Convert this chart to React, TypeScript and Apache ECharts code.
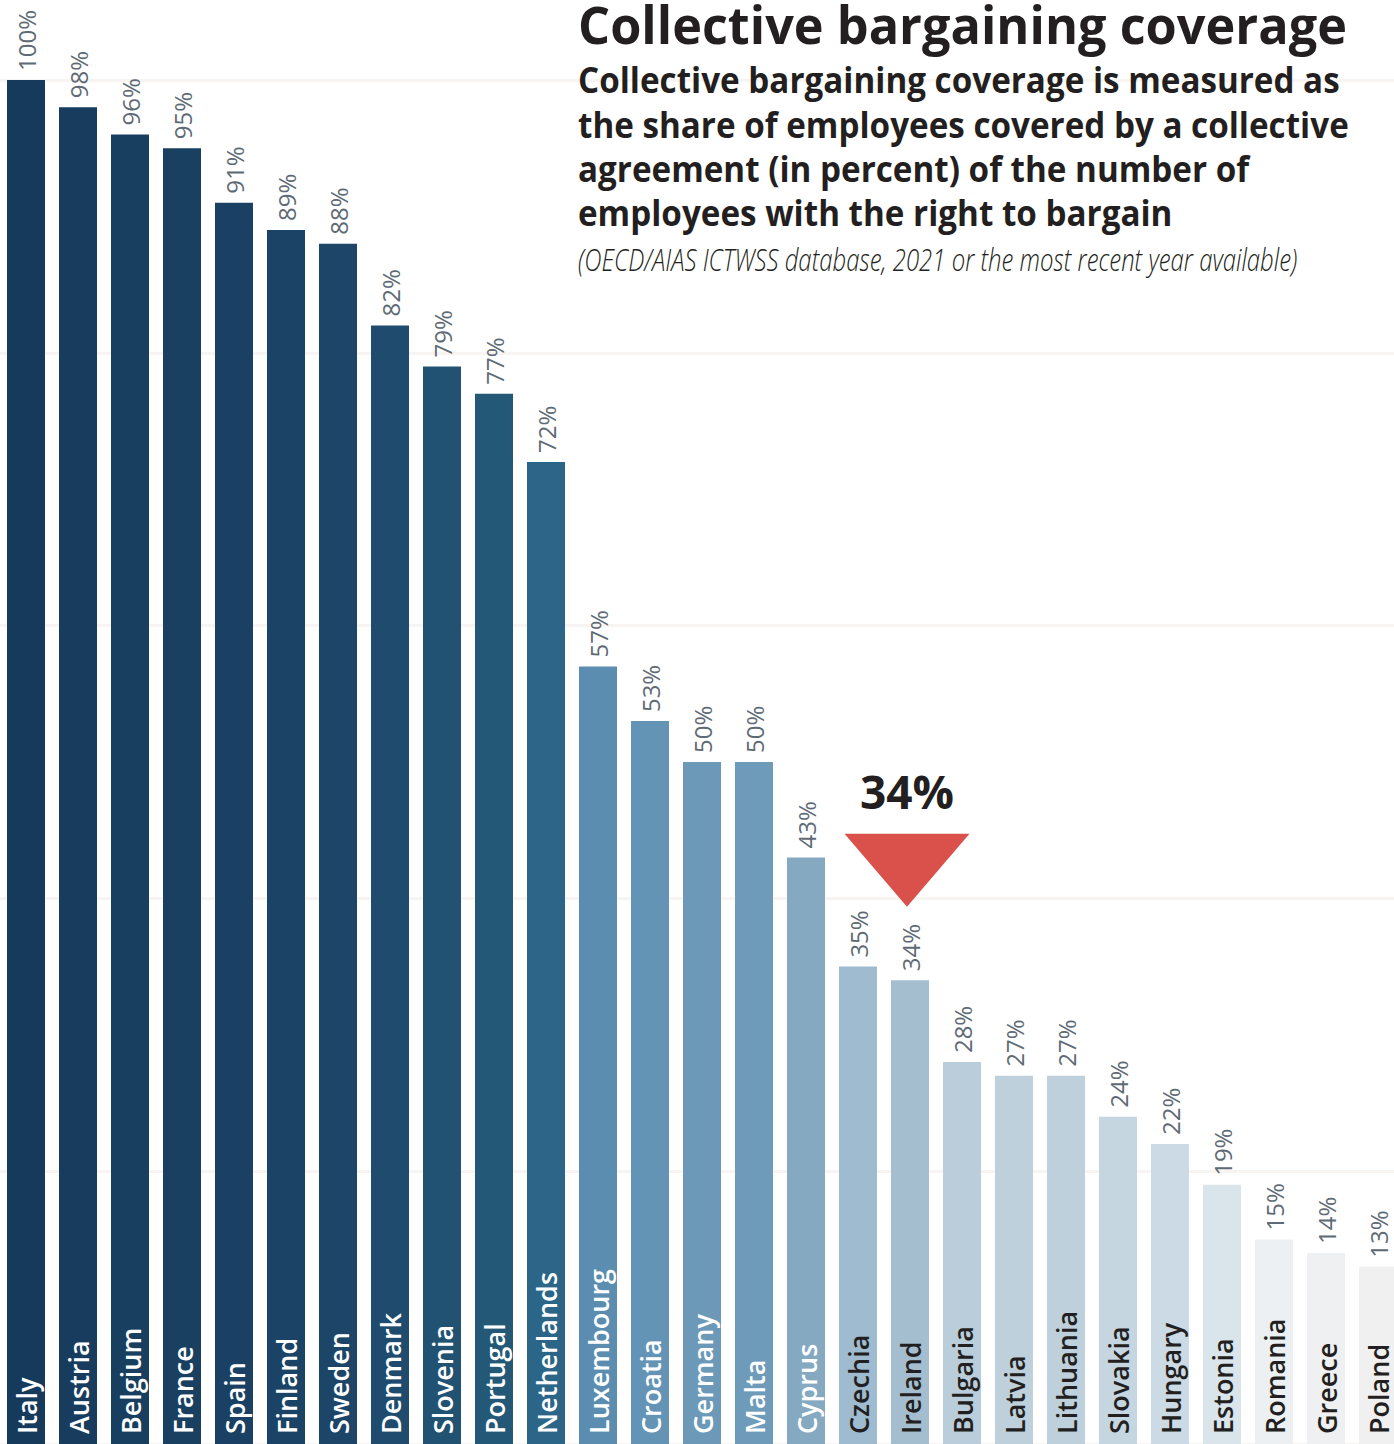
import React, { useEffect, useRef } from "react";
import * as echarts from "echarts";

const countries = [
  "Italy", "Austria", "Belgium", "France", "Spain", "Finland", "Sweden", "Denmark",
  "Slovenia", "Portugal", "Netherlands", "Luxembourg", "Croatia", "Germany", "Malta",
  "Cyprus", "Czechia", "Ireland", "Bulgaria", "Latvia", "Lithuania", "Slovakia",
  "Hungary", "Estonia", "Romania", "Greece", "Poland",
];

const coverage = [
  100, 98, 96, 95, 91, 89, 88, 82, 79, 77, 72, 57, 53, 50, 50, 43, 35, 34, 28, 27, 27,
  24, 22, 19, 15, 14, 13,
];

const barColors = [
  "#163a5c", "#173c5e", "#183e60", "#193f61", "#1a4163", "#1b4365", "#1c4567",
  "#1f4c6e", "#215272", "#245877", "#2b6587", "#5a8db0", "#6494b5", "#6c99b8",
  "#6e9bb9", "#86a9c2", "#9fbbcf", "#a4bed0", "#b9cdda", "#bed0dc", "#bdd0dc",
  "#c6d6e1", "#cbdae4", "#d9e4eb", "#ecf0f2", "#eef0f1", "#f0f0f0",
];

const yTicks = [0, 20, 40, 60, 80, 100];

const highlightCountry = "Ireland";
const highlightLabel = "34%";

const titleText = "Collective bargaining coverage";
const subtitleLines = [
  "Collective bargaining coverage is measured as",
  "the share of employees covered by a collective",
  "agreement (in percent) of the number of",
  "employees with the right to bargain",
];
const sourceText = "(OECD/AIAS ICTWSS database, 2021 or the most recent year available)";

function fitScale(text: string, font: string, target: number) {
  const ctx = document.createElement("canvas").getContext("2d");
  if (!ctx) return 1;
  ctx.font = font;
  const w = ctx.measureText(text).width;
  return w > 0 ? target / w : 1;
}

export default function App() {
  const ref = useRef<HTMLDivElement>(null);

  useEffect(() => {
    document.body.style.margin = "0";
    document.body.style.overflow = "hidden";
    if (!ref.current) return;
    const chart = echarts.init(ref.current, undefined, { renderer: "svg" });

    const FF = "'Open Sans'";
    const titleSize = 52;
    const subSize = 35;
    const srcSize = 32;
    const titleScale = fitScale(titleText, `700 ${titleSize}px ${FF}`, 769);
    const subScale = fitScale(subtitleLines[0], `700 ${subSize}px ${FF}`, 762);
    const srcScale = fitScale(sourceText, `italic 300 ${srcSize}px ${FF}`, 719);

    const left = 578;
    const subBaselines = [90, 135, 179, 223];

    const graphics: any[] = [
      {
        type: "text",
        x: left,
        y: 39 - 0.29 * titleSize,
        scaleX: titleScale,
        z: 10,
        style: {
          text: titleText,
          fontFamily: FF,
          fontWeight: 700,
          fontSize: titleSize,
          lineHeight: 44,
          fill: "#231f20",
          verticalAlign: "middle",
        },
      },
      ...subtitleLines.map((t, i) => ({
        type: "text",
        x: left,
        y: subBaselines[i] - 0.29 * subSize,
        scaleX: subScale,
        z: 10,
        style: {
          text: t,
          fontFamily: FF,
          fontWeight: 700,
          fontSize: subSize,
          fill: "#231f20",
          verticalAlign: "middle",
        },
      })),
      {
        type: "text",
        x: left,
        y: 268 - 0.29 * srcSize,
        scaleX: srcScale,
        z: 10,
        style: {
          text: sourceText,
          fontFamily: FF,
          fontWeight: 300,
          fontStyle: "italic",
          fontSize: srcSize,
          fill: "#231f20",
          verticalAlign: "middle",
        },
      },
    ];

    const hiIndex = countries.indexOf(highlightCountry);

    chart.setOption({
      animation: false,
      backgroundColor: "#ffffff",
      grid: { left: 0, right: 0, top: 80, bottom: -2 },
      xAxis: {
        type: "category",
        data: countries,
        axisLine: { show: false },
        axisTick: { show: false },
        axisLabel: { show: false },
      },
      yAxis: {
        type: "value",
        min: yTicks[0],
        max: yTicks[yTicks.length - 1],
        interval: yTicks[1] - yTicks[0],
        axisLine: { show: false },
        axisTick: { show: false },
        axisLabel: { show: false },
        splitLine: { show: true, lineStyle: { color: "#f7f4f1", width: 3 } },
      },
      graphic: graphics,
      series: [
        {
          type: "bar",
          barWidth: 38,
          data: coverage.map((v, i) => ({
            value: v,
            itemStyle: { color: barColors[i] },
          })),
          label: {
            show: true,
            position: "top",
            rotate: 90,
            align: "left",
            verticalAlign: "middle",
            distance: 9,
            formatter: "{c}%",
            fontFamily: FF,
            fontSize: 24,
            fontWeight: 400,
            color: "#5e6a75",
          },
          markPoint: {
            silent: true,
            data: [
              {
                coord: [hiIndex, coverage[hiIndex]],
                symbol: "path://M0,0 L125,0 L62.5,73 Z",
                symbolSize: [125, 73],
                symbolOffset: [-3, -110],
                itemStyle: { color: "#d9514a" },
                label: { show: false },
              },
              {
                coord: [hiIndex, coverage[hiIndex]],
                symbol: "circle",
                symbolSize: 1,
                symbolOffset: [-3, -189],
                itemStyle: { color: "rgba(0,0,0,0)" },
                label: {
                  show: true,
                  position: "inside",
                  formatter: highlightLabel,
                  fontFamily: FF,
                  fontWeight: 700,
                  fontSize: 46,
                  color: "#231f20",
                },
              },
            ],
          },
        },
        {
          type: "bar",
          barWidth: 38,
          barGap: "-100%",
          silent: true,
          data: coverage.map((v, i) => ({
            value: v,
            label: { color: i <= 15 ? "#ffffff" : "#231f20" },
          })),
          itemStyle: { color: "rgba(0,0,0,0)" },
          label: {
            show: true,
            position: "insideBottom",
            rotate: 90,
            align: "left",
            verticalAlign: "middle",
            distance: 10,
            formatter: (p: any) => countries[p.dataIndex],
            fontFamily: FF,
            fontSize: 27,
            lineHeight: 22,
            fontWeight: 600,
          },
        },
      ],
    });

    return () => chart.dispose();
  }, []);

  return (
    <div style={{ position: "absolute", left: 0, top: 0, width: 1394, height: 1444, overflow: "hidden" }}>
      <div ref={ref} style={{ position: "absolute", left: 0, top: 0, width: 1404, height: 1444 }} />
    </div>
  );
}
